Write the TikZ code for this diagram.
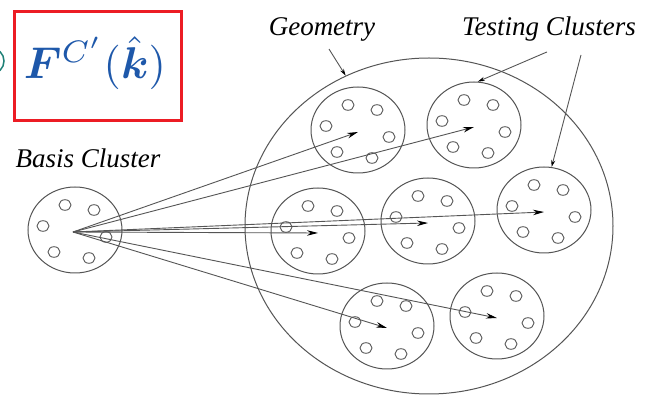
\documentclass[tikz,border=0pt]{standalone}
\usepackage{graphicx}
\usepackage{bm}
\usepackage{fontspec}
\newfontfamily\lbl{Liberation Serif}
\usetikzlibrary{shapes.geometric,arrows.meta,calc}
\definecolor{linegray}{RGB}{85,85,85}
\definecolor{fblue}{RGB}{30,88,170}
\definecolor{boxred}{RGB}{236,28,36}
\definecolor{tealc}{RGB}{30,128,118}
\begin{document}
\begin{tikzpicture}[x=1pt,y=-1pt,
  cluster/.style={draw=linegray, line width=1pt, ellipse, minimum width=94pt, minimum height=86pt, inner sep=0pt},
  geom/.style={draw=linegray, line width=1pt, ellipse, minimum width=368pt, minimum height=336pt, inner sep=0pt},
  dot/.style={draw=linegray, line width=0.9pt},
  ray/.style={draw=linegray, line width=0.9pt, -{Stealth[length=11pt,width=5.5pt,color=black]}},
  pointer/.style={draw=linegray, line width=0.9pt, -{Stealth[length=7pt,width=4pt,color=black]}},
  label/.style={font=\lbl\itshape\fontsize{27}{30}\selectfont, text=black, inner sep=0pt, anchor=base}
]
\clip (0,0) rectangle (649,395);
\fill[white] (0,0) rectangle (649,395);

% teal partial circle at the left edge
\draw[tealc, line width=1.5pt] (-9,61) circle (13);
% formula box
\draw[boxred, line width=3pt] (14.5,11.5) rectangle (181.5,120.5);
\node[text=fblue, inner sep=0pt, anchor=base] (fml) at (95,79)
  {\scalebox{4.45}{$\bm{F}^{C'}(\hat{\bm{k}})$}};

% geometry
\node[geom] (G) at (429,226) {};

% clusters
\node[cluster] (b)  at (75,230)  {};
\node[cluster] (c1) at (358,130) {};
\node[cluster] (c2) at (474,125) {};
\node[cluster] (c3) at (318,231) {};
\node[cluster] (c4) at (428,221) {};
\node[cluster] (c5) at (544,210) {};
\node[cluster] (c6) at (387,326) {};
\node[cluster] (c7) at (497,316) {};

\foreach \c in {b,c1,c2,c3,c4,c5,c6,c7}{
  \foreach \dx/\dy in {-10/-25, 19/-20, -32/-4, 31/7, -21/22, 14/28}{
    \draw[dot] ($(\c.center)+(\dx,\dy)$) ellipse [x radius=6, y radius=5.3];
  }
}

% rays from basis cluster
\coordinate (o) at ($(b.center)+(-2,2)$);
\foreach \c in {c1,c2,c3,c4,c5,c6,c7}{
  \draw[ray] (o) -- ($(\c.center)+(0,2)$);
}

% labels
\node[label] (bl) at (88,168) {Basis Cluster};
\node[label] (gl) at (322,36) {Geometry};
\node[label] (tl) at (549,36) {Testing Clusters};

\coordinate (ga) at ($(gl.south)+(7,7)$);
\coordinate (ta) at ($(tl.south)+(-2,10)$);
\coordinate (tb) at ($(tl.south)+(32,13)$);
\draw[pointer] (ga) -- (G.119);
\draw[pointer] (ta) -- (c2.85);
\draw[pointer] (tb) -- (c5.80);
\end{tikzpicture}
\end{document}
